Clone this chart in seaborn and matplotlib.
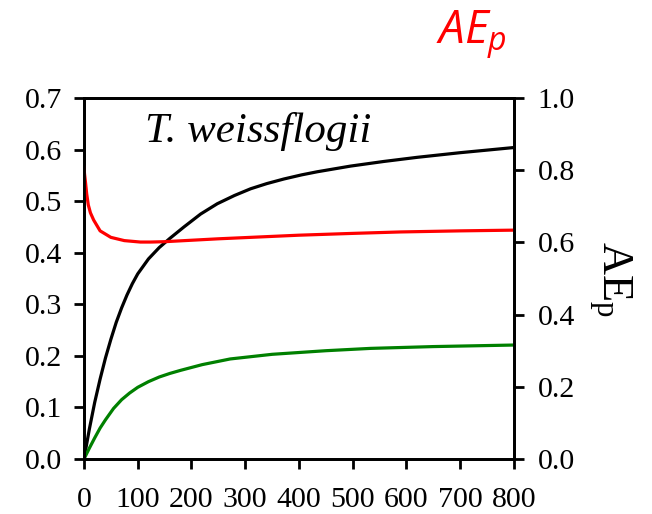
import matplotlib
matplotlib.use("Agg")
import matplotlib.pyplot as plt
import seaborn as sns
import pandas as pd

# ---- data ----
black_x = [0, 10, 20, 30, 40, 50, 60, 70, 80, 90, 100, 120, 140, 160, 186, 217, 248, 280, 310, 340, 372, 405, 434, 496, 558, 620, 700, 800]
black_vals = [0.0, 0.058, 0.11, 0.155, 0.196, 0.232, 0.265, 0.293, 0.318, 0.340, 0.359, 0.388, 0.410, 0.428, 0.450, 0.475, 0.495, 0.511, 0.524, 0.534, 0.543, 0.551, 0.557, 0.568, 0.577, 0.585, 0.594, 0.604]
green_x = [0, 10, 20, 30, 40, 55, 70, 85, 100, 120, 140, 160, 180, 220, 272, 350, 450, 533, 650, 800]
green_vals = [0.0, 0.021, 0.041, 0.06, 0.076, 0.098, 0.115, 0.128, 0.139, 0.150, 0.159, 0.166, 0.172, 0.183, 0.194, 0.203, 0.210, 0.2145, 0.218, 0.221]
red_x = [0, 1, 3, 5, 8, 12, 18, 30, 50, 75, 105, 124, 150, 200, 250, 310, 400, 500, 589, 700, 800]
red_vals = [0.81, 0.79, 0.764, 0.735, 0.704, 0.682, 0.662, 0.632, 0.614, 0.605, 0.601, 0.601, 0.602, 0.606, 0.610, 0.614, 0.620, 0.625, 0.629, 0.632, 0.634]

x_ticks = [0, 100, 200, 300, 400, 500, 600, 700, 800]
left_ticks = [0.0, 0.1, 0.2, 0.3, 0.4, 0.5, 0.6, 0.7]
right_ticks = [0.0, 0.2, 0.4, 0.6, 0.8, 1.0]

sns.set_theme(style="white")
plt.rcParams["font.family"] = ["Liberation Serif", "DejaVu Serif"]
plt.rcParams["mathtext.fontset"] = "custom"
plt.rcParams["mathtext.rm"] = "Liberation Serif"
plt.rcParams["mathtext.it"] = "Open Sans:italic"

dfb = pd.DataFrame({"x": black_x, "y": black_vals})
dfg = pd.DataFrame({"x": green_x, "y": green_vals})
dfr = pd.DataFrame({"x": red_x, "y": red_vals})

fig = plt.figure(figsize=(6.52, 5.14), dpi=100)
ax = fig.add_axes([0.1288, 0.107, 0.6595, 0.7023])
ax2 = ax.twinx()

sns.lineplot(data=dfb, x="x", y="y", ax=ax, color="black", linewidth=2.3)
sns.lineplot(data=dfg, x="x", y="y", ax=ax, color="#008000", linewidth=2.3)
sns.lineplot(data=dfr, x="x", y="y", ax=ax2, color="#ff0000", linewidth=2.3)
for a in (ax, ax2):
    for ln in a.lines:
        ln.set_linewidth(2.3)
        ln.set_solid_capstyle("round")
        ln.set_solid_joinstyle("round")

ax.set_xlim(0, 800)
ax.set_ylim(0, 0.7)
ax2.set_ylim(0, 1.0)
ax.set_xticks(x_ticks)
ax.set_xticklabels([str(v) for v in x_ticks])
ax.set_yticks(left_ticks)
ax.set_yticklabels([f"{v:.1f}" for v in left_ticks])
ax2.set_yticks(right_ticks)
ax2.set_yticklabels([f"{v:.1f}" for v in right_ticks])
ax.set_xlabel("")
ax.set_ylabel("")

for a in (ax, ax2):
    for s in a.spines.values():
        s.set_visible(True)
        s.set_color("black")
        s.set_linewidth(2.0)
ax.tick_params(axis="both", which="major", direction="out", length=7, width=2,
               labelsize=21.5, colors="black", pad=9, left=True, bottom=True)
ax2.tick_params(axis="y", which="major", direction="out", length=7, width=2,
                labelsize=21.5, colors="black", pad=10, right=True)
ax.tick_params(axis="x", pad=13)

ax2.set_ylabel(r"$\mathrm{AE_p}$", rotation=270, fontsize=32, labelpad=42, color="black")

ax.text(0.142, 0.878, "T. weissflogii", transform=ax.transAxes, fontsize=31,
        fontstyle="italic", va="baseline", ha="left", color="black")

fig.text(0.668, 0.916, r"$AE_p$", color="#ff0000", fontsize=33, ha="left", va="baseline")

fig.savefig("out.png", dpi=100)
